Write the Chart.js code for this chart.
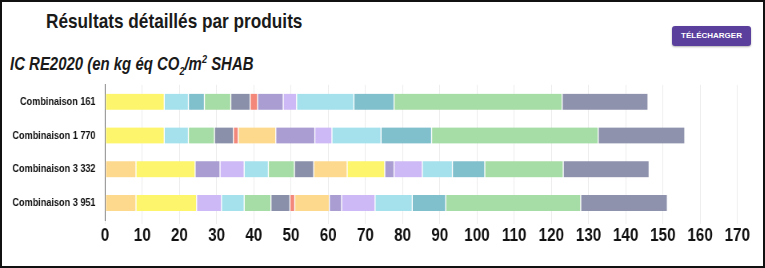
<!DOCTYPE html>
<html>
<head>
<meta charset="utf-8">
<script src="https://cdn.jsdelivr.net/npm/chart.js@4/dist/chart.umd.min.js"></script>
<style>
  html, body { margin: 0; padding: 0; background: #fff; }
  body { width: 765px; height: 268px; position: relative; overflow: hidden; }
  #frame { position: absolute; left: 0; top: 0; width: 765px; height: 268px; box-sizing: border-box; border: 2px solid #111; z-index: 5; pointer-events: none; }
  #title { position: absolute; left: 46px; top: 9px; font-family: "Liberation Sans", Arial, sans-serif; font-weight: bold; font-size: 21px; color: #1a1a1a; white-space: nowrap; transform: scaleX(0.82); transform-origin: 0 0; }
  #subtitle { position: absolute; left: 10px; top: 53px; font-family: "Liberation Sans", Arial, sans-serif; font-weight: bold; font-style: italic; font-size: 18px; color: #1a1a1a; white-space: nowrap; transform: scaleX(0.83); transform-origin: 0 0; }
  #subtitle sub, #subtitle sup { font-size: 11px; }
  #btn { position: absolute; left: 672px; top: 26px; width: 79px; height: 20px; background: #5a3f9d; border-radius: 3px; color: #fff; font-family: "Liberation Sans", Arial, sans-serif; font-weight: bold; font-size: 8px; line-height: 20px; text-align: center; box-shadow: 0 1px 2px rgba(0,0,0,0.3); }
  /* chart canvas drawn wider then condensed horizontally, like the reference's narrow lettering */
  #wrap { position: absolute; left: 0; top: 74px; width: 956px; height: 190px; transform: scaleX(0.8); transform-origin: 0 0; }
</style>
</head>
<body>
<div id="frame"></div>
<div id="title">Résultats détaillés par produits</div>
<div id="btn">TÉLÉCHARGER</div>
<div id="subtitle">IC RE2020 (en kg éq CO<sub>2</sub>/m<sup>2</sup> SHAB</div>
<div id="wrap"><canvas id="c"></canvas></div>
<script>
// Categories (rows)
const categories = ['Combinaison 161', 'Combinaison 1 770', 'Combinaison 3 332', 'Combinaison 3 951'];

// Segment values per row (kg éq CO2/m² SHAB), left to right
const row161  = [15.9, 6.5, 4.3, 7.1, 5.2, 2.0, 6.9, 3.6, 15.4, 10.8, 45.2, 23.1];
const row1770 = [15.9, 6.5, 7.0, 5.1, 1.3, 10.1, 10.5, 4.6, 13.2, 13.6, 44.8, 23.3];
const row3332 = [8.3, 15.9, 6.7, 6.5, 6.5, 7.0, 5.2, 9.0, 10.1, 2.5, 7.6, 8.1, 8.7, 21.1, 23.1];
const row3951 = [8.3, 16.3, 6.7, 6.1, 7.2, 5.1, 1.3, 9.3, 3.3, 9.0, 10.0, 9.0, 36.3, 23.3];

// Colour keys of each segment, left to right
const keys161  = ['Y','C','T','G','D','R','P','L','C','T','G','S'];
const keys1770 = ['Y','C','G','D','R','O','P','L','C','T','G','S'];
const keys3332 = ['O','Y','P','L','C','G','D','O','Y','P','L','C','T','G','S'];
const keys3951 = ['O','Y','L','C','G','D','R','O','P','L','C','T','G','S'];

// X axis ticks
const xMin = 0, xMax = 170, xStep = 10;

const palette = {
  Y: '#fdf56c', C: '#a4e1ec', T: '#80bfcc', G: '#a6dca6', D: '#8a90a9',
  R: '#f2877a', P: '#a99dd2', L: '#cdb9f6', O: '#fcd98d', S: '#8e92ac'
};

const rows = [row161, row1770, row3332, row3951];
const rowKeys = [keys161, keys1770, keys3332, keys3951];
const nSeg = Math.max(...rows.map(r => r.length));
const datasets = [];
for (let i = 0; i < nSeg; i++) {
  datasets.push({
    label: 'Segment ' + (i + 1),
    data: rows.map(r => (i < r.length ? r[i] : null)),
    backgroundColor: rowKeys.map(k => (i < k.length ? palette[k[i]] : 'transparent')),
    borderColor: '#ffffff',
    borderWidth: { left: 1, right: 1, top: 0, bottom: 0 },
    borderSkipped: false,
    barThickness: 16
  });
}

new Chart(document.getElementById('c'), {
  type: 'bar',
  data: { labels: categories, datasets },
  options: {
    indexAxis: 'y',
    responsive: true,
    maintainAspectRatio: false,
    animation: false,
    layout: { padding: { top: 8.5, right: 34.4, bottom: 0, left: 0 } },
    plugins: { legend: { display: false }, tooltip: { enabled: false } },
    scales: {
      x: {
        stacked: true,
        min: xMin, max: xMax,
        ticks: {
          stepSize: xStep,
          color: '#111',
          padding: 0,
          font: { family: '"Liberation Sans", Arial, sans-serif', weight: 'bold', size: 19 }
        },
        grid: { color: '#ececec', lineWidth: 1, tickLength: 4 },
        border: { display: false },
        afterFit: s => { s.height = 44; }
      },
      y: {
        stacked: true,
        ticks: {
          color: '#111',
          padding: 4,
          font: { family: '"Liberation Sans", Arial, sans-serif', weight: 'bold', size: 11.4 }
        },
        grid: { display: false },
        border: { display: true, color: '#666', width: 1 },
        afterFit: s => { s.width = 131.4; }
      }
    }
  }
});
</script>
</body>
</html>
